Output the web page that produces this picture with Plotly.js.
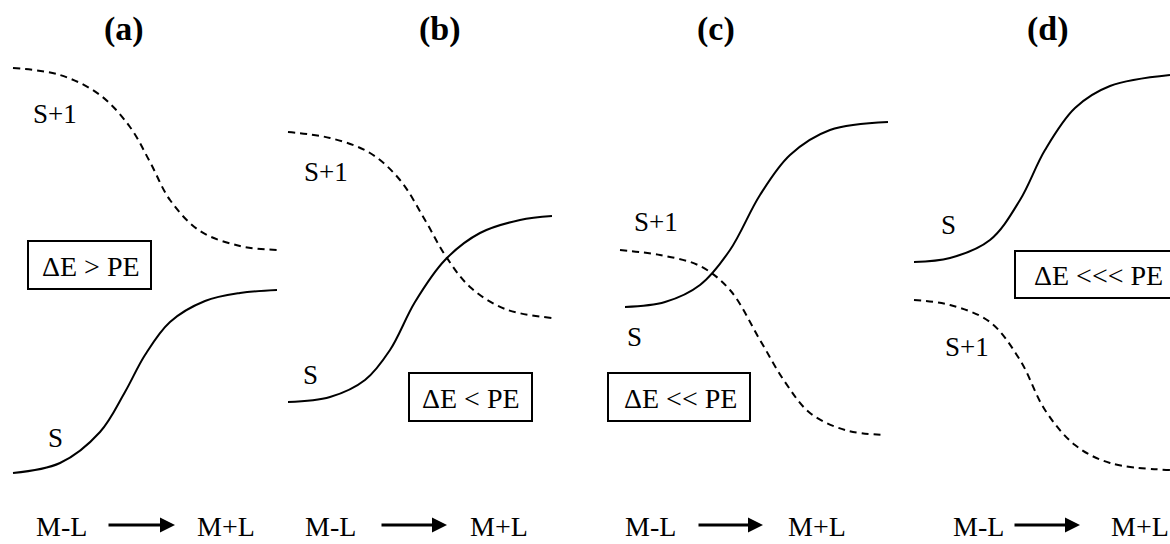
<!DOCTYPE html>
<html><head><meta charset="utf-8">
<script src="https://cdn.plot.ly/plotly-3.0.1.min.js"></script>
<style>html,body{margin:0;padding:0;background:#fff}#chart{width:1170px;height:544px}</style>
</head><body><div id="chart"></div>
<script>
// Panel titles and labels
const panelTitles = ["(a)", "(b)", "(c)", "(d)"];
const gapLabels = ["ΔE > PE", "ΔE < PE", "ΔE << PE", "ΔE <<< PE"];
const axisFrom = "M-L", axisTo = "M+L";

// Curves (horizontal coordinate, level; level grows downward on screen)
const aS1x = [13, 60, 100, 130, 150, 170, 200, 240, 277];
const aS1y = [68, 75, 95, 127, 162, 200, 231, 246, 250];
const aSx  = [13, 60, 100, 125, 145, 170, 205, 240, 277];
const aSy  = [473, 463, 432, 392, 355, 322, 301, 293, 290];

const bS1x = [288, 330, 370, 400, 425, 445, 470, 505, 552];
const bS1y = [132, 138, 153, 180, 220, 255, 287, 309, 318];
const bSx  = [288, 330, 365, 390, 415, 445, 480, 520, 552];
const bSy  = [402, 397, 380, 350, 302, 260, 233, 220, 216];

const cS1x = [620, 660, 700, 730, 760, 785, 810, 845, 885];
const cS1y = [250, 255, 266, 290, 340, 382, 413, 430, 435];
const cSx  = [625, 665, 700, 730, 760, 790, 830, 888];
const cSy  = [307, 302, 285, 250, 195, 155, 130, 122];

const dSx  = [914, 950, 990, 1020, 1045, 1075, 1110, 1170];
const dSy  = [262, 258, 240, 200, 150, 108, 86, 75];
const dS1x = [914, 950, 990, 1020, 1045, 1075, 1110, 1170];
const dS1y = [300, 305, 322, 360, 410, 445, 463, 470];

const solid = {color: "#000", width: 2, shape: "spline", smoothing: 1};
const dashed = {color: "#000", width: 2, dash: "7px,5px", shape: "spline", smoothing: 1};

const traces = [
  [aS1x, aS1y, dashed], [aSx, aSy, solid],
  [bS1x, bS1y, dashed], [bSx, bSy, solid],
  [cS1x, cS1y, dashed], [cSx, cSy, solid],
  [dS1x, dS1y, dashed], [dSx, dSy, solid]
].map(([x, y, line]) => ({x, y, type: "scatter", mode: "lines", line, hoverinfo: "skip", showlegend: false}));

const FONT = "Liberation Serif";
const txt = (text, x, y, size) => ({
  text, x, y, xref: "x", yref: "y", showarrow: false,
  font: {family: FONT, size: size, color: "#000"}
});

const ann = [];
const titlePos = [124, 440, 716, 1048];
panelTitles.forEach((t, i) => ann.push(txt("<b>" + t + "</b>", titlePos[i], 29, 34)));

// curve labels
[["S+1", 55, 114], ["S", 55, 438], ["S+1", 326, 172], ["S", 310, 375],
 ["S+1", 656, 222], ["S", 634, 337], ["S", 948, 225], ["S+1", 967, 347]]
  .forEach(([t, x, y]) => ann.push(txt(t, x, y, 27)));

// boxed energy relations
const boxes = [[28, 151, 241, 289], [409, 532, 373, 421], [608, 750, 373, 421], [1015, 1180, 251, 298]];
const shapes = boxes.map(([x0, x1, y0, y1]) => ({type: "rect", xref: "x", yref: "y", x0, x1, y0, y1,
  line: {color: "#000", width: 2}, fillcolor: "rgba(0,0,0,0)"}));
const boxText = [[91, 266], [471, 398], [680, 398], [1098, 275]];
gapLabels.forEach((t, i) => ann.push(txt(t, boxText[i][0], boxText[i][1], 28)));

// bottom axis labels + arrows
const base = [[61, 107, 175, 226], [330, 380, 447, 499], [650, 697, 763, 817], [978, 1013, 1080, 1140]];
base.forEach(([l, a0, a1, r]) => {
  ann.push(txt(axisFrom, l, 526, 28));
  ann.push(txt(axisTo, r, 526, 28));
  ann.push({x: a1, y: 525, ax: a0, ay: 525, xref: "x", yref: "y", axref: "x", ayref: "y",
    showarrow: true, arrowhead: 2, arrowsize: 1, arrowwidth: 3, arrowcolor: "#000", text: ""});
});

const layout = {
  width: 1170, height: 544,
  margin: {l: 0, r: 0, t: 0, b: 0},
  paper_bgcolor: "#fff", plot_bgcolor: "#fff",
  xaxis: {range: [0, 1170], visible: false, fixedrange: true},
  yaxis: {range: [544, 0], visible: false, fixedrange: true},
  annotations: ann, shapes: shapes, showlegend: false
};
Plotly.newPlot("chart", traces, layout, {staticPlot: true, displayModeBar: false});
</script></body></html>
